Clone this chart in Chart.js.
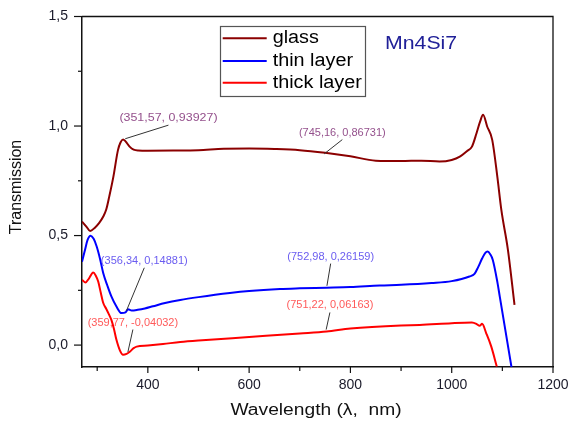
<!DOCTYPE html>
<html><head><meta charset="utf-8">
<script src="https://cdn.jsdelivr.net/npm/chart.js@4/dist/chart.umd.min.js"></script>
<style>html,body{margin:0;padding:0;background:#fff}#wrap{width:570px;height:425px;position:relative}</style>
</head><body><div id="wrap"><canvas id="c" width="570" height="425"></canvas></div>
<script>
// ---------- DATA ----------
const seriesNames = ['glass', 'thin layer', 'thick layer'];

const glassWl = [270, 279, 286, 295, 304, 312, 318, 324, 332, 341, 346, 351, 356, 364, 372, 381, 400, 450, 500, 550, 600, 650, 700, 750, 800, 850, 900, 940, 976, 1000, 1016, 1030, 1040, 1049, 1056, 1062, 1070, 1080, 1090, 1098, 1111, 1124];
const glassT  = [0.564, 0.540, 0.521, 0.535, 0.558, 0.587, 0.620, 0.680, 0.769, 0.890, 0.925, 0.939, 0.930, 0.906, 0.892, 0.888, 0.887, 0.888, 0.890, 0.896, 0.897, 0.895, 0.890, 0.878, 0.862, 0.842, 0.840, 0.842, 0.838, 0.845, 0.860, 0.885, 0.906, 0.967, 1.020, 1.051, 0.998, 0.937, 0.770, 0.617, 0.435, 0.184];

const thinWl = [270, 276, 281, 287, 293, 299, 306, 312, 320, 328, 338, 348, 356, 361, 368, 380, 394, 410, 434, 464, 500, 562, 600, 661, 700, 753, 800, 858, 900, 960, 1000, 1035, 1045, 1052, 1060, 1066, 1071, 1076, 1081, 1090, 1095, 1118];
const thinT  = [0.381, 0.435, 0.480, 0.499, 0.485, 0.450, 0.390, 0.328, 0.272, 0.222, 0.176, 0.146, 0.149, 0.164, 0.158, 0.161, 0.167, 0.177, 0.192, 0.206, 0.219, 0.238, 0.247, 0.256, 0.259, 0.262, 0.265, 0.272, 0.275, 0.283, 0.292, 0.313, 0.325, 0.355, 0.395, 0.420, 0.427, 0.415, 0.390, 0.290, 0.220, -0.100];

const thickWl = [270, 277, 284, 292, 297, 302, 307, 312, 318, 322, 328, 333, 338, 345, 351, 358, 365, 372, 378, 400, 430, 464, 500, 600, 700, 753, 800, 900, 937, 1000, 1040, 1050, 1055, 1060, 1068, 1078, 1089];
const thickT  = [0.298, 0.286, 0.305, 0.331, 0.318, 0.290, 0.240, 0.192, 0.165, 0.146, 0.115, 0.075, 0.024, -0.025, -0.044, -0.040, -0.029, -0.014, -0.007, -0.002, 0.005, 0.014, 0.021, 0.037, 0.053, 0.062, 0.076, 0.090, 0.092, 0.100, 0.103, 0.095, 0.088, 0.097, 0.055, -0.006, -0.098];

// annotated points (wavelength, transmission, series index)
const annoWl = [351.57, 745.16, 356.34, 752.98, 359.77, 751.22];
const annoT  = [0.93927, 0.86731, 0.14881, 0.26159, -0.04032, 0.06163];
const annoSeries = [0, 0, 1, 1, 2, 2];

const xTickValues = [400, 600, 800, 1000, 1200];
const xTickLabels = ['400', '600', '800', '1000', '1200'];
const yTickValues = [0, 0.5, 1.0, 1.5];
const yTickLabels = ['0,0', '0,5', '1,0', '1,5'];

const sampleName = 'Mn4Si7';
const xTitle = 'Wavelength (\u03BB,  nm)';
const yTitle = 'Transmission';

// ---------- STYLE / LAYOUT ----------
const FONT = '"Liberation Sans", Arial, Helvetica, sans-serif';
const seriesColors = ['#8B0000', '#0000FF', '#FF0000'];
const annoColors = ['#94508C', '#6A5CF0', '#FF5A5A'];
// label centres in data units and horizontal stretch (layout only)
const annoLabelPos = [[440.7, 1.036], [784, 0.970], [393, 0.385], [761, 0.404], [370.5, 0.103], [759.5, 0.181]];
const annoLabelStretch = [1.13, 1, 1, 1, 1, 1];
const LEG = {x: 220, y: 26, w: 145, h: 70, rows: [38.3, 61, 82.7], l0: 222.7, l1: 266.7, tx: 272.7, size: 18, sx: 1.1};

function toPts(xs, ys) { return xs.map((x, i) => ({x: x, y: ys[i]})); }
function fmtNum(v, d) { return v.toFixed(d).replace('.', ','); }
function near(a, b) { return Math.abs(a - b) < 1e-6; }

function stretchText(ctx, text, x, y, size, sx, align, color) {
  ctx.save();
  ctx.translate(x, y);
  ctx.scale(sx, 1);
  ctx.font = size + 'px ' + FONT;
  ctx.fillStyle = color;
  ctx.textAlign = align;
  ctx.textBaseline = 'middle';
  ctx.fillText(text, 0, 0);
  ctx.restore();
}

const decor = {
  id: 'decor',
  afterDatasetsDraw(chart) {
    const ctx = chart.ctx, xs = chart.scales.x, ys = chart.scales.y;
    annoWl.forEach((w, i) => {
      const px = xs.getPixelForValue(w), py = ys.getPixelForValue(annoT[i]);
      const lx = xs.getPixelForValue(annoLabelPos[i][0]), ly = ys.getPixelForValue(annoLabelPos[i][1]);
      const ex = lx, ey = ly + 7;
      const dx = ex - px, dy = ey - py, d = Math.hypot(dx, dy);
      ctx.save();
      ctx.strokeStyle = '#333';
      ctx.lineWidth = 1;
      ctx.beginPath();
      ctx.moveTo(px + dx / d * 2, py + dy / d * 2);
      ctx.lineTo(ex, ey);
      ctx.stroke();
      ctx.restore();
      const txt = '(' + fmtNum(w, 2) + ', ' + fmtNum(annoT[i], 5) + ')';
      stretchText(ctx, txt, lx, ly, 11, annoLabelStretch[i], 'center', annoColors[annoSeries[i]]);
    });
  },
  afterDraw(chart) {
    const ctx = chart.ctx, xs = chart.scales.x, ys = chart.scales.y, a = chart.chartArea;
    ctx.save();
    ctx.strokeStyle = '#111';
    ctx.lineWidth = 1.3;
    ctx.beginPath();
    ctx.moveTo(a.left, a.top); ctx.lineTo(a.right, a.top); ctx.lineTo(a.right, a.bottom);
    ctx.stroke();
    ctx.lineWidth = 1.2;
    xs.ticks.forEach(t => {
      const p = xs.getPixelForValue(t.value);
      const major = xTickValues.some(v => near(v, t.value));
      ctx.beginPath(); ctx.moveTo(p, a.bottom); ctx.lineTo(p, a.bottom + (major ? 6 : 4)); ctx.stroke();
    });
    ys.ticks.forEach(t => {
      const p = ys.getPixelForValue(t.value);
      const major = yTickValues.some(v => near(v, t.value));
      ctx.beginPath(); ctx.moveTo(a.left, p); ctx.lineTo(a.left - (major ? 8 : 4), p); ctx.stroke();
    });
    ctx.strokeStyle = '#555';
    ctx.lineWidth = 1.2;
    ctx.strokeRect(LEG.x + 0.5, LEG.y + 0.5, LEG.w, LEG.h);
    chart.data.datasets.forEach((ds, i) => {
      const y = LEG.rows[i];
      ctx.strokeStyle = ds.borderColor;
      ctx.lineWidth = 2;
      ctx.beginPath(); ctx.moveTo(LEG.l0, y); ctx.lineTo(LEG.l1, y); ctx.stroke();
      stretchText(ctx, ds.label, LEG.tx, y, LEG.size, LEG.sx, 'left', '#000');
    });
    stretchText(ctx, sampleName, 385, 44, 19, 1.12, 'left', '#202098');
    stretchText(ctx, xTitle, 316, 411, 16, 1.2, 'center', '#111');
    ctx.save();
    ctx.translate(17, 187);
    ctx.rotate(-Math.PI / 2);
    stretchText(ctx, yTitle, 0, 0, 16, 1, 'center', '#111');
    ctx.restore();
    ctx.restore();
  }
};

new Chart(document.getElementById('c'), {
  type: 'line',
  data: {
    datasets: [
      {label: seriesNames[0], data: toPts(glassWl, glassT), borderColor: seriesColors[0]},
      {label: seriesNames[1], data: toPts(thinWl, thinT), borderColor: seriesColors[1]},
      {label: seriesNames[2], data: toPts(thickWl, thickT), borderColor: seriesColors[2]}
    ]
  },
  options: {
    responsive: false,
    animation: false,
    devicePixelRatio: 1,
    layout: {padding: {top: 16.5, right: 17, left: 0, bottom: 0}},
    elements: {
      line: {borderWidth: 2, cubicInterpolationMode: 'monotone', fill: false},
      point: {radius: 0, hoverRadius: 0}
    },
    plugins: {legend: {display: false}, tooltip: {enabled: false}},
    scales: {
      x: {
        type: 'linear', min: 270, max: 1200,
        afterFit(s) { s.height = 58; s.paddingLeft = 0; s.paddingRight = 0; },
        grid: {display: false, drawTicks: false},
        border: {display: true, color: '#111', width: 1.5},
        ticks: {
          stepSize: 100, includeBounds: false, padding: 10, maxRotation: 0, autoSkip: false,
          color: '#1a1a2a', font: {family: FONT, size: 14},
          callback(v) { const i = xTickValues.findIndex(t => near(t, v)); return i >= 0 ? xTickLabels[i] : ''; }
        },
        title: {display: false}
      },
      y: {
        type: 'linear', min: -0.1, max: 1.5,
        afterFit(s) { s.width = 82; s.paddingTop = 0; s.paddingBottom = 0; },
        grid: {display: false, drawTicks: false},
        border: {display: true, color: '#111', width: 1.5},
        ticks: {
          stepSize: 0.25, includeBounds: false, padding: 14, autoSkip: false,
          color: '#1a1a2a', font: {family: FONT, size: 14},
          callback(v) { const i = yTickValues.findIndex(t => near(t, v)); return i >= 0 ? yTickLabels[i] : ''; }
        },
        title: {display: false}
      }
    }
  },
  plugins: [decor]
});
</script></body></html>
